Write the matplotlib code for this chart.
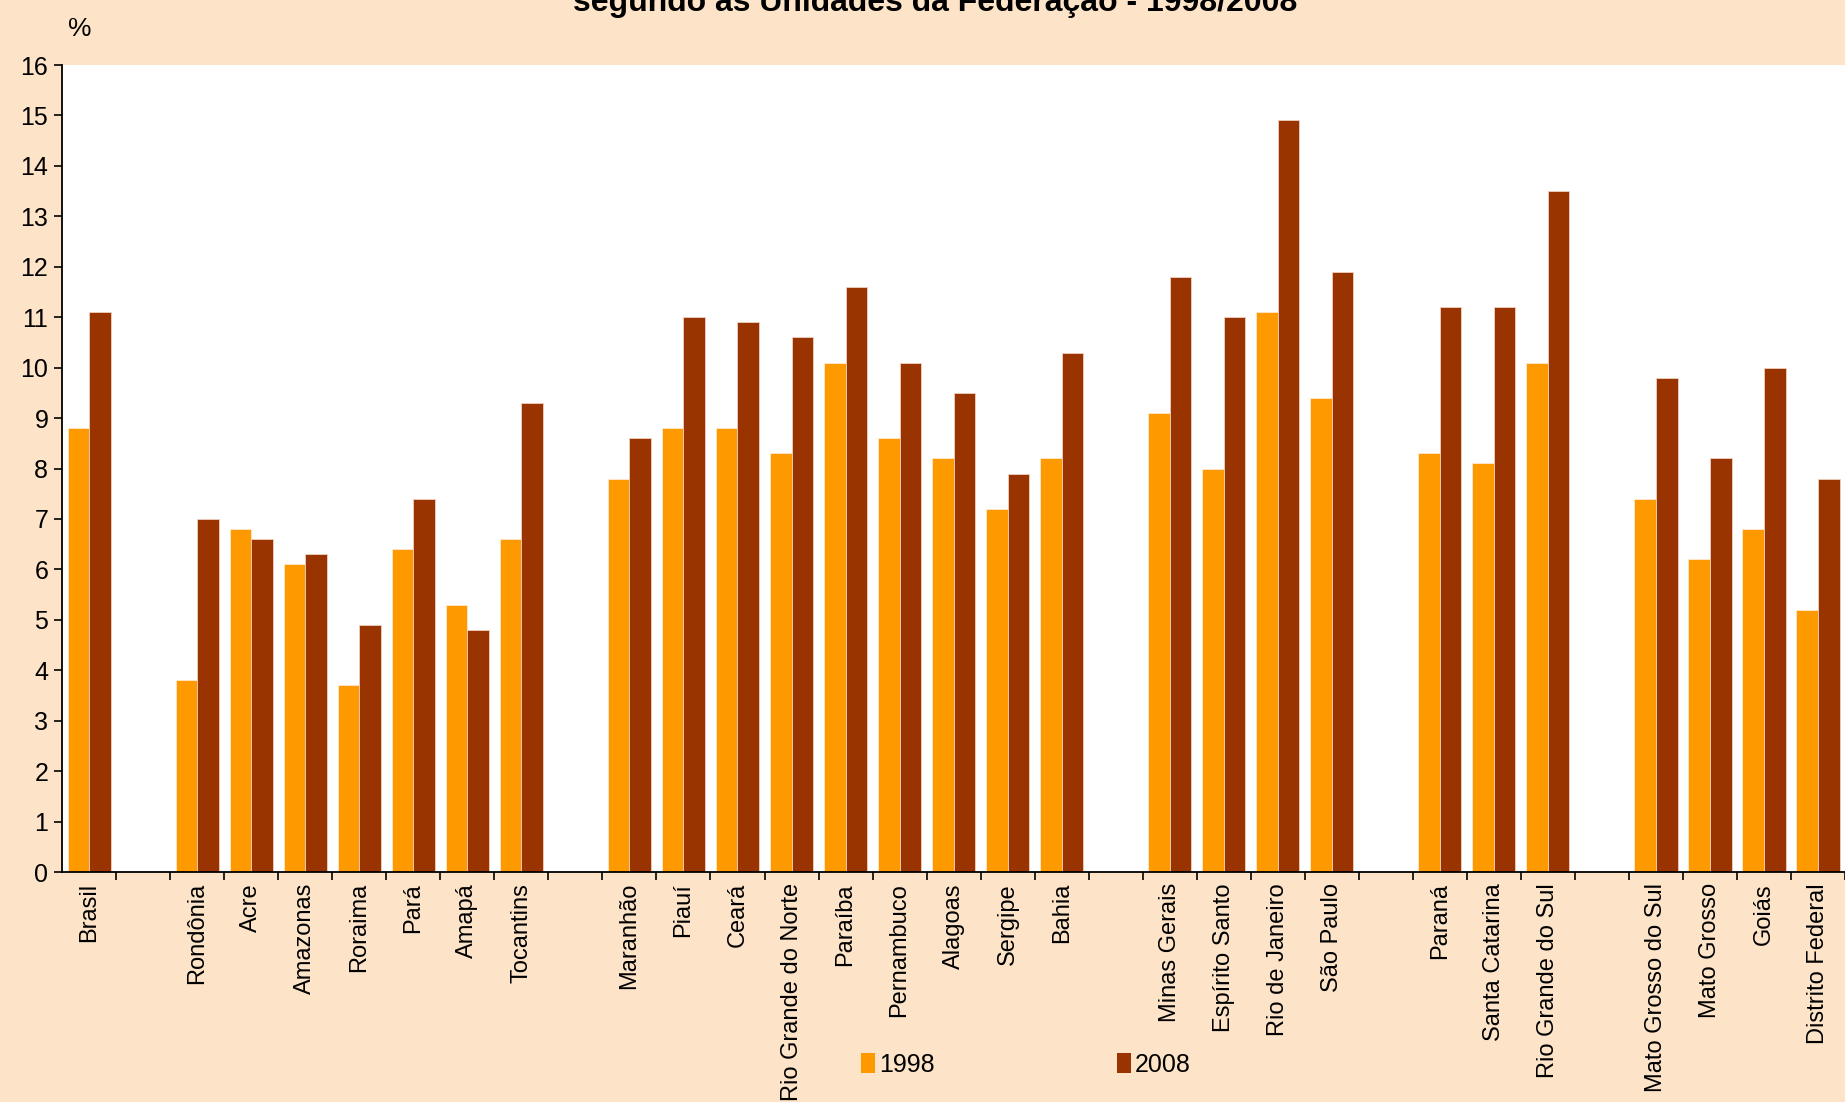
import numpy as np
import matplotlib
matplotlib.use('Agg')
import matplotlib.pyplot as plt
from matplotlib.patches import Patch

plt.rcParams['font.family'] = ['Liberation Sans', 'DejaVu Sans']

# Unidades da Federação, na ordem do gráfico
ufs = ['Brasil',
       'Rondônia', 'Acre', 'Amazonas', 'Roraima', 'Pará', 'Amapá', 'Tocantins',
       'Maranhão', 'Piauí', 'Ceará', 'Rio Grande do Norte', 'Paraíba',
       'Pernambuco', 'Alagoas', 'Sergipe', 'Bahia',
       'Minas Gerais', 'Espírito Santo', 'Rio de Janeiro', 'São Paulo',
       'Paraná', 'Santa Catarina', 'Rio Grande do Sul',
       'Mato Grosso do Sul', 'Mato Grosso', 'Goiás', 'Distrito Federal']
# quantas UFs em cada bloco (Brasil + 5 regiões)
grupos = [1, 7, 9, 4, 3, 4]

v1998 = [8.8,
         3.8, 6.8, 6.1, 3.7, 6.4, 5.3, 6.6,
         7.8, 8.8, 8.8, 8.3, 10.1, 8.6, 8.2, 7.2, 8.2,
         9.1, 8.0, 11.1, 9.4,
         8.3, 8.1, 10.1,
         7.4, 6.2, 6.8, 5.2]
v2008 = [11.1,
         7.0, 6.6, 6.3, 4.9, 7.4, 4.8, 9.3,
         8.6, 11.0, 10.9, 10.6, 11.6, 10.1, 9.5, 7.9, 10.3,
         11.8, 11.0, 14.9, 11.9,
         11.2, 11.2, 13.5,
         9.8, 8.2, 10.0, 7.8]

anos = ['1998', '2008']
cores = ['#FF9900', '#993300']
fundo = '#FDE4C8'

# posição de cada UF, deixando uma casa vazia entre os blocos
pos = []
slot = 0
for g in grupos:
    for _ in range(g):
        pos.append(slot + 0.5)
        slot += 1
    slot += 1
n_slots = slot - 1
pos = np.array(pos)

fig = plt.figure(figsize=(18.45, 11.02), dpi=100, facecolor=fundo)
ax = fig.add_axes([0.0337, 0.2087, 0.9663, 0.7323])
ax.set_facecolor('white')

w = 0.4
ax.bar(pos - w / 2, v1998, width=w, color=cores[0], edgecolor='#FFE8D0', linewidth=0.6)
ax.bar(pos + w / 2, v2008, width=w, color=cores[1], edgecolor='#F0D0C0', linewidth=0.6)

ax.set_xlim(0, n_slots)
ax.set_ylim(0, 16)
ax.set_yticks(range(0, 17))
ax.tick_params(axis='y', labelsize=18, length=6, width=1.2, direction='out', pad=4)

ax.set_xticks(pos)
ax.set_xticklabels(ufs, rotation=90, fontsize=17, va='top', ha='center')
ax.set_xticks(np.arange(1, n_slots + 1), minor=True)
ax.tick_params(axis='x', which='major', length=0, pad=8)
ax.tick_params(axis='x', which='minor', length=6, width=1.2, direction='out')

for s in ['top', 'right']:
    ax.spines[s].set_visible(False)
for s in ['left', 'bottom']:
    ax.spines[s].set_linewidth(1.3)
    ax.spines[s].set_color('black')

fig.text(0.0434, 0.974, '%', fontsize=19, ha='center', va='center')
fig.text(0.507, 0.990, 'segundo as Unidades da Federação - 1998/2008',
         fontsize=23, fontweight='bold', ha='center', va='baseline')

handles = [Patch(facecolor=c, edgecolor='none') for c in cores]
fig.legend(handles, anos, loc='center', bbox_to_anchor=(0.556, 0.034), ncol=2,
           frameon=False, fontsize=18, handlelength=0.55, handleheight=0.9,
           handletextpad=0.15, columnspacing=7.3)

fig.savefig('out.png', dpi=100, facecolor=fundo)
